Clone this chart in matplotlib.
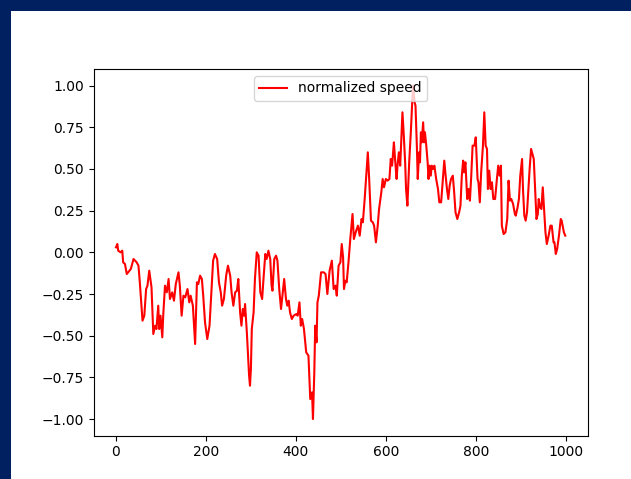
import matplotlib
matplotlib.use("Agg")
import matplotlib.pyplot as plt
from matplotlib.patches import Rectangle

# sample index and normalized speed
x_idx = [0, 3, 5, 10, 14, 16, 20, 24, 27, 33, 39, 46, 50, 53, 59, 63, 67, 70, 74, 79,
         83, 87, 90, 94, 96, 99, 103, 105, 109, 113, 117, 120, 125, 129, 133, 139, 142, 146, 150, 154,
         159, 163, 166, 171, 176, 180, 183, 187, 191, 194, 198, 203, 208, 213, 216, 220, 225, 229, 233, 236,
         240, 245, 249, 254, 257, 261, 265, 269, 272, 276, 279, 282, 285, 287, 291, 294, 296, 298, 300, 302,
         306, 309, 313, 317, 321, 325, 328, 332, 335, 339, 343, 346, 348, 352, 356, 359, 363, 367, 371, 374,
         378, 381, 384, 387, 391, 395, 401, 404, 408, 411, 414, 418, 423, 428, 432, 436, 438, 441, 443, 446,
         448, 451, 456, 462, 466, 470, 475, 480, 484, 488, 491, 495, 499, 502, 505, 507, 510, 513, 517, 521,
         526, 529, 533, 538, 542, 546, 549, 553, 556, 560, 563, 567, 571, 574, 578, 582, 585, 590, 593, 596,
         600, 604, 608, 611, 614, 618, 620, 624, 626, 629, 632, 635, 637, 640, 643, 645, 648, 652, 656, 659,
         661, 664, 666, 669, 671, 674, 676, 678, 680, 683, 685, 687, 690, 693, 695, 697, 700, 702, 705, 708,
         712, 716, 719, 723, 727, 730, 733, 736, 739, 742, 745, 749, 752, 755, 759, 763, 766, 769, 772, 774,
         777, 781, 784, 787, 790, 793, 797, 800, 804, 806, 809, 812, 816, 819, 822, 825, 827, 830, 833, 836,
         839, 843, 847, 850, 853, 856, 858, 862, 866, 870, 873, 876, 879, 883, 887, 889, 893, 896, 899, 903,
         905, 908, 911, 914, 917, 920, 923, 926, 929, 932, 935, 938, 940, 943, 946, 949, 952, 955, 958, 962,
         966, 969, 973, 975, 978, 981, 985, 989, 991, 996, 999]
speed = [0.03, 0.05, 0.01, 0.0, 0.01, -0.06, -0.07, -0.13, -0.12, -0.10, -0.04, -0.06, -0.08, -0.18, -0.41, -0.38, -0.22, -0.20, -0.11, -0.21,
         -0.49, -0.44, -0.46, -0.32, -0.46, -0.38, -0.51, -0.38, -0.20, -0.24, -0.16, -0.28, -0.24, -0.29, -0.19, -0.12, -0.20, -0.38, -0.26, -0.27,
         -0.22, -0.30, -0.26, -0.32, -0.55, -0.18, -0.19, -0.14, -0.16, -0.26, -0.42, -0.52, -0.44, -0.20, -0.05, -0.01, -0.04, -0.18, -0.24, -0.32,
         -0.28, -0.14, -0.08, -0.14, -0.24, -0.32, -0.24, -0.23, -0.16, -0.36, -0.44, -0.34, -0.38, -0.31, -0.48, -0.63, -0.74, -0.80, -0.70, -0.46,
         -0.36, -0.16, 0.0, -0.02, -0.24, -0.28, -0.16, -0.01, -0.04, 0.01, -0.04, -0.20, -0.23, -0.04, -0.02, -0.05, -0.22, -0.34, -0.24, -0.16,
         -0.28, -0.32, -0.29, -0.36, -0.40, -0.38, -0.37, -0.38, -0.30, -0.44, -0.40, -0.46, -0.60, -0.62, -0.88, -0.84, -1.00, -0.72, -0.44, -0.54,
         -0.30, -0.26, -0.12, -0.12, -0.13, -0.25, -0.11, -0.05, -0.22, -0.20, -0.26, -0.08, -0.06, 0.05, -0.03, -0.22, -0.17, -0.18, -0.06, 0.08,
         0.23, 0.08, 0.12, 0.16, 0.10, 0.20, 0.18, 0.32, 0.44, 0.60, 0.44, 0.19, 0.18, 0.16, 0.06, 0.16, 0.26, 0.36, 0.44, 0.39,
         0.44, 0.43, 0.44, 0.56, 0.52, 0.66, 0.58, 0.44, 0.52, 0.60, 0.52, 0.72, 0.84, 0.70, 0.54, 0.38, 0.28, 0.54, 0.74, 0.92,
         1.00, 0.90, 0.88, 0.64, 0.44, 0.60, 0.54, 0.72, 0.66, 0.78, 0.66, 0.72, 0.64, 0.54, 0.44, 0.52, 0.46, 0.52, 0.50, 0.52,
         0.44, 0.38, 0.30, 0.30, 0.44, 0.55, 0.46, 0.38, 0.32, 0.40, 0.44, 0.46, 0.36, 0.24, 0.20, 0.24, 0.28, 0.46, 0.55, 0.48,
         0.54, 0.32, 0.38, 0.31, 0.46, 0.64, 0.64, 0.69, 0.44, 0.42, 0.30, 0.48, 0.64, 0.84, 0.64, 0.62, 0.38, 0.49, 0.38, 0.42,
         0.32, 0.32, 0.44, 0.52, 0.46, 0.52, 0.16, 0.11, 0.12, 0.20, 0.43, 0.31, 0.32, 0.29, 0.23, 0.22, 0.27, 0.32, 0.46, 0.56,
         0.38, 0.22, 0.19, 0.24, 0.38, 0.51, 0.62, 0.59, 0.56, 0.38, 0.20, 0.23, 0.32, 0.27, 0.26, 0.39, 0.26, 0.12, 0.05, 0.10,
         0.16, 0.16, 0.06, 0.06, -0.01, 0.02, 0.10, 0.20, 0.19, 0.12, 0.10]

fig = plt.figure(figsize=(6.31, 4.79), dpi=100)
fig.patch.set_facecolor("#00205f")

# white page sitting on the navy background
page = Rectangle((11 / 631, 0), 1, 1 - 11 / 479, transform=fig.transFigure,
                 facecolor="white", edgecolor="none", zorder=0)
fig.add_artist(page)

ax = fig.add_axes([0.1482, 0.0904, 0.7832, 0.7656])
ax.plot(x_idx, speed, color="red", label="normalized speed")
ax.legend(loc="upper center")

fig.savefig("out.png", dpi=100, facecolor=fig.get_facecolor())
